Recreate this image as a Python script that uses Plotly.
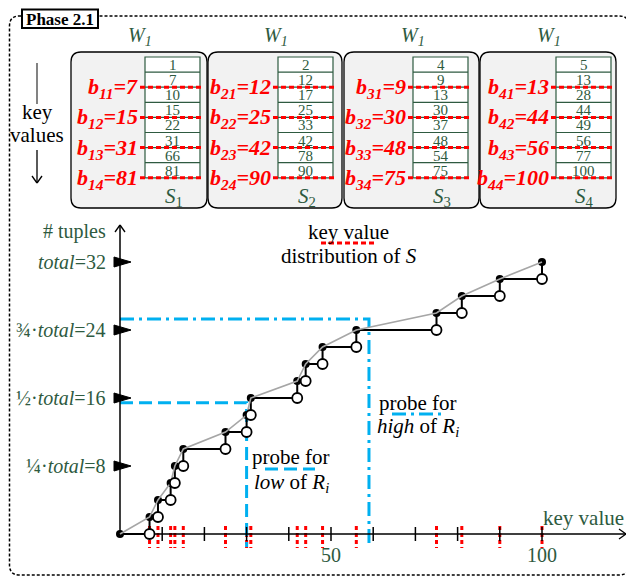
import plotly.graph_objects as go

# ---------------- data ----------------
s1_keys = [1, 7, 10, 15, 22, 31, 66, 81]
s2_keys = [2, 12, 17, 25, 33, 42, 78, 90]
s3_keys = [4, 9, 13, 30, 37, 48, 54, 75]
s4_keys = [5, 13, 28, 44, 49, 56, 77, 100]
s1_bounds = [7, 15, 31, 81]
s2_bounds = [12, 25, 42, 90]
s3_bounds = [9, 30, 48, 75]
s4_bounds = [13, 44, 56, 100]
partition_labels = ["<i>S</i><sub>1</sub>", "<i>S</i><sub>2</sub>", "<i>S</i><sub>3</sub>", "<i>S</i><sub>4</sub>"]
window_labels = ["<i>W<sub>1</sub></i>"] * 4

step_keys = [7, 9, 12, 13, 15, 25, 30, 31, 42, 44, 48, 56, 75, 81, 90, 100]
step_counts = [2, 4, 6, 8, 10, 12, 14, 16, 18, 20, 22, 24, 26, 28, 30, 32]

ytick_vals = [8, 16, 24, 32]
ytick_text = ["¼·<i>total</i>=8", "½·<i>total</i>=16", "¾·<i>total</i>=24", "<i>total</i>=32"]
xtick_vals = [10, 20, 30, 40, 50, 60, 70, 80, 90, 100]
xlabel_vals = [50, 100]
probe_low = (30, 15.45)
probe_high = (59, 25.3)

# ---------------- geometry ----------------
W, H = 634, 579
OFF = 8  # page body margin of the html page
X0PX, XSCALE = 120, 4.22
Y0PX, YSCALE = 534, 8.5
FONT = "Liberation Serif"
GREEN = "#2E5A40"
RED = "#FF0000"
CYAN = "#00B0F0"


def cy(py):
    return (Y0PX - py) / YSCALE


def kx(px):
    return (px - X0PX) / XSCALE


fig = go.Figure()
shapes = []
ann = []


def rpath(x0, y0, x1, y1, r):
    return (f"M{x0+r},{y0} L{x1-r},{y0} Q{x1},{y0} {x1},{y0+r} L{x1},{y1-r} "
            f"Q{x1},{y1} {x1-r},{y1} L{x0+r},{y1} Q{x0},{y1} {x0},{y1-r} "
            f"L{x0},{y0+r} Q{x0},{y0} {x0+r},{y0} Z")


def pline(x0, y0, x1, y1, color="black", width=1.5, dash="solid"):
    shapes.append(dict(type="line", xref="x2", yref="y2", x0=x0, y0=y0, x1=x1, y1=y1,
                       line=dict(color=color, width=width, dash=dash)))


def ptext(x, y, text, size=20, color="black", xanchor="center", yanchor="middle", xref="x2", yref="y2"):
    ann.append(dict(x=x, y=y, xref=xref, yref=yref, text=text, showarrow=False,
                    xanchor=xanchor, yanchor=yanchor,
                    font=dict(family=FONT, size=size, color=color)))


# outer dotted frame
shapes.append(dict(type="path", xref="x2", yref="y2", path=rpath(9.5, 16, 629, 575, 10),
                   line=dict(color="black", width=1.5, dash="3px,2px")))
# phase label box
shapes.append(dict(type="rect", xref="x2", yref="y2", x0=22, y0=9.5, x1=98, y1=28,
                   fillcolor="white", line=dict(color="black", width=2)))
ptext(60, 19, "<b>Phase 2.1</b>", size=17)

# key values indicator
pline(37, 63, 37, 104, color="#404040", width=1.3)
ptext(37, 112, "key", size=21)
ptext(37, 135, "values", size=21)
pline(37, 150, 37, 183, color="black", width=1.3)
pline(32, 176, 37, 183, color="black", width=1.3)
pline(42, 176, 37, 183, color="black", width=1.3)

# partition boxes
box_lefts = [71, 208, 344, 480]
box_rights = [207, 342, 479, 616]
table_lefts = [145, 278, 413, 556]
TW = 55
ROW_TOP = 57
ROW_H = 15.1
all_keys = [s1_keys, s2_keys, s3_keys, s4_keys]
all_bounds = [s1_bounds, s2_bounds, s3_bounds, s4_bounds]

for p in range(4):
    bl, br, tl = box_lefts[p], box_rights[p], table_lefts[p]
    shapes.append(dict(type="path", xref="x2", yref="y2", path=rpath(bl, 52, br, 208, 10),
                       fillcolor="#F2F2F2", line=dict(color="black", width=1.3)))
    tr = tl + TW
    shapes.append(dict(type="rect", xref="x2", yref="y2", x0=tl, y0=ROW_TOP, x1=tr,
                       y1=ROW_TOP + 8 * ROW_H, fillcolor="white", line=dict(color=GREEN, width=1.2)))
    for r in range(1, 8):
        yy = ROW_TOP + r * ROW_H
        pline(tl, yy, tr, yy, color=GREEN, width=1.2)
    for r, v in enumerate(all_keys[p]):
        ptext(tl + TW / 2, ROW_TOP + (r + 0.5) * ROW_H + 0.5, str(v), size=15, color=GREEN)
    for j, bv in enumerate(all_bounds[p]):
        yy = ROW_TOP + (2 * j + 2) * ROW_H
        pline(tl - 5, yy, tr + 3, yy, color=RED, width=3, dash="5px,3px")
        ptext(tl - 5, yy + 1, f"<b><i>b<sub>{p+1}{j+1}</sub>={bv}</i></b>", size=22, color=RED,
              xanchor="right")
    ptext((bl + br) / 2 + 1, 36, window_labels[p], size=20, color=GREEN)
    ptext(tl + TW / 2 + 1, 197, partition_labels[p], size=21, color=GREEN)

# ---------------- chart ----------------
merged_bounds = sorted(s1_bounds + s2_bounds + s3_bounds + s4_bounds)
rx, ry = [], []
for b in merged_bounds:
    rx += [b, b, None]
    ry += [cy(526), cy(548), None]
fig.add_trace(go.Scatter(x=rx, y=ry, mode="lines", line=dict(color=RED, width=3, dash="4px,3px"),
                         hoverinfo="skip", showlegend=False))

fig.add_trace(go.Scatter(x=[0, probe_low[0], probe_low[0]], y=[probe_low[1], probe_low[1], cy(547)],
                         mode="lines", line=dict(color=CYAN, width=3, dash="13px,6px"),
                         hoverinfo="skip", showlegend=False))
fig.add_trace(go.Scatter(x=[0, probe_high[0], probe_high[0]], y=[probe_high[1], probe_high[1], cy(546)],
                         mode="lines", line=dict(color=CYAN, width=3, dash="14px,5px,3px,5px"),
                         hoverinfo="skip", showlegend=False))

tx, ty = [], []
for t in xtick_vals:
    tx += [t, t, None]
    ty += [cy(527), cy(541), None]
fig.add_trace(go.Scatter(x=tx, y=ty, mode="lines", line=dict(color="black", width=1.5),
                         hoverinfo="skip", showlegend=False))

fig.add_trace(go.Scatter(x=[kx(626), 0, 0], y=[0, 0, cy(225)], mode="lines",
                         line=dict(color="black", width=1.5), hoverinfo="skip", showlegend=False))
pline(619, 529, 626, 534, width=1.3)
pline(619, 539, 626, 534, width=1.3)
pline(115, 232, 120, 225, width=1.3)
pline(125, 232, 120, 225, width=1.3)

fig.add_trace(go.Scatter(x=[0] + step_keys, y=[0] + step_counts, mode="lines", line_shape="hv",
                         line=dict(color="black", width=2), hoverinfo="skip", showlegend=False))
fig.add_trace(go.Scatter(x=[0] + step_keys, y=[0] + step_counts, mode="markers",
                         marker=dict(color="black", size=8), hoverinfo="skip", showlegend=False))
fig.add_trace(go.Scatter(x=[0] + step_keys, y=[0] + step_counts, mode="lines",
                         line=dict(color="#A6A6A6", width=1.6), hoverinfo="skip", showlegend=False))
fig.add_trace(go.Scatter(x=step_keys, y=[0] + step_counts[:-1], mode="markers",
                         marker=dict(color="white", size=10, line=dict(color="black", width=1.8)),
                         hoverinfo="skip", showlegend=False))

for v, t in zip(ytick_vals, ytick_text):
    shapes.append(dict(type="path", xref="x", yref="y", xsizemode="pixel", ysizemode="pixel",
                       xanchor=0, yanchor=v, path="M-6,-5 L11,0 L-6,5 Z",
                       fillcolor="black", line=dict(color="black", width=1), layer="above"))
    ptext(kx(108), v, t, size=20, color=GREEN, xanchor="right", xref="x", yref="y")
ptext(108, 231, "# tuples", size=20, color=GREEN, xanchor="right")

for v in xlabel_vals:
    ptext(v, cy(555), str(v), size=20, color=GREEN, xref="x", yref="y")
ptext(626, 518, "key value", size=21, color=GREEN, xanchor="right")

ptext(348, 232, "key value", size=21)
ptext(349, 256, "distribution of <i>S</i>", size=21)
pline(321, 243, 376, 243, color=RED, width=3, dash="5px,3px")

ptext(291, 457, "probe for", size=21)
ptext(291, 483, "<i>low</i> of <i>R<sub>i</sub></i>", size=21)
pline(265, 469, 315, 469, color=CYAN, width=3, dash="13px,6px")

ptext(418, 403, "probe for", size=21)
ptext(418, 427, "<i>high</i> of <i>R<sub>i</sub></i>", size=21)
pline(392, 414, 442, 414, color=CYAN, width=3, dash="14px,5px,3px,5px")

fig.add_trace(go.Scatter(x=[OFF], y=[OFF], xaxis="x2", yaxis="y2", mode="markers",
                         marker=dict(opacity=0), hoverinfo="skip", showlegend=False))

# the page body has an 8px margin: the figure covers reference pixels [OFF, W] x [OFF, H]
fig.update_layout(
    width=W - OFF, height=H - OFF, margin=dict(l=0, r=0, t=0, b=0, autoexpand=False),
    paper_bgcolor="white", plot_bgcolor="rgba(0,0,0,0)",
    xaxis=dict(range=[kx(OFF), kx(W)], domain=[0, 1], visible=False, fixedrange=True),
    yaxis=dict(range=[cy(H), cy(OFF)], domain=[0, 1], visible=False, fixedrange=True),
    xaxis2=dict(range=[OFF, W], domain=[0, 1], visible=False, overlaying="x", anchor="y2"),
    yaxis2=dict(range=[H, OFF], domain=[0, 1], visible=False, overlaying="y", anchor="x2"),
    shapes=shapes, annotations=ann, showlegend=False,
)
fig.write_html("out.html")
